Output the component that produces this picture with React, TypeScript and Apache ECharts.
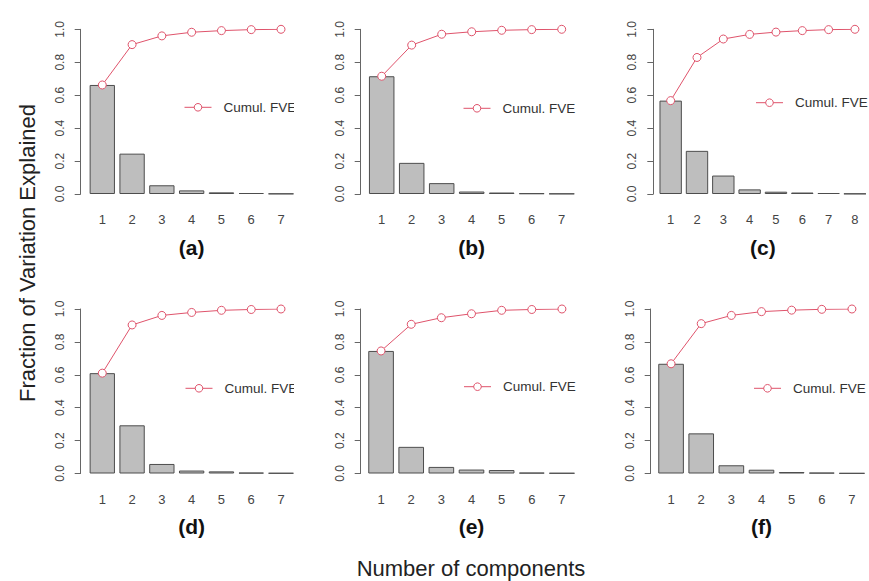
import React, { useEffect, useRef } from 'react';
import * as echarts from 'echarts';

// ---- data ----
const components7 = ['1', '2', '3', '4', '5', '6', '7'];
const components8 = ['1', '2', '3', '4', '5', '6', '7', '8'];

const fveA = [0.662, 0.245, 0.053, 0.022, 0.010, 0.006, 0.002];
const cumA = [0.662, 0.907, 0.960, 0.982, 0.992, 0.998, 1.000];
const fveB = [0.715, 0.189, 0.066, 0.015, 0.009, 0.004, 0.002];
const cumB = [0.715, 0.904, 0.970, 0.985, 0.994, 0.998, 1.000];
const fveC = [0.567, 0.262, 0.112, 0.028, 0.014, 0.009, 0.006, 0.002];
const cumC = [0.567, 0.829, 0.941, 0.969, 0.983, 0.992, 0.998, 1.000];
const fveD = [0.610, 0.293, 0.058, 0.018, 0.013, 0.005, 0.003];
const cumD = [0.610, 0.903, 0.961, 0.979, 0.992, 0.997, 1.000];
const fveE = [0.745, 0.162, 0.040, 0.024, 0.021, 0.005, 0.003];
const cumE = [0.745, 0.907, 0.947, 0.971, 0.992, 0.997, 1.000];
const fveF = [0.667, 0.244, 0.050, 0.023, 0.009, 0.005, 0.002];
const cumF = [0.667, 0.911, 0.961, 0.984, 0.993, 0.998, 1.000];

const panelLabels = ['(a)', '(b)', '(c)', '(d)', '(e)', '(f)'];
const legendText = 'Cumul. FVE';
const yAxisTitle = 'Fraction of Variation Explained';
const xAxisTitle = 'Number of components';

// ---- layout (pixels) ----
const FONT = '"Liberation Sans", Arial, Helvetica, sans-serif';
const RED = '#DF536B';

const panels = [
  { cats: components7, fve: fveA, cum: cumA, axisX: 80.7, left: 87.4, width: 208.5, top: 29.3, height: 164.7, legX: 184.5, legY: 107.3, labY: 247, clip: true },
  { cats: components7, fve: fveB, cum: cumB, axisX: 360.7, left: 366.7, width: 210, top: 29.3, height: 164.7, legX: 463.5, legY: 108.3, labY: 247, clip: false },
  { cats: components8, fve: fveC, cum: cumC, axisX: 653.3, left: 657.5, width: 210.6, top: 29.3, height: 164.7, legX: 756, legY: 102.7, labY: 247, clip: false },
  { cats: components7, fve: fveD, cum: cumD, axisX: 80.7, left: 87.4, width: 208.5, top: 309, height: 164.5, legX: 185.5, legY: 388.3, labY: 526, clip: true },
  { cats: components7, fve: fveE, cum: cumE, axisX: 360.7, left: 366, width: 211, top: 309, height: 164.5, legX: 464, legY: 386.7, labY: 526, clip: false },
  { cats: components7, fve: fveF, cum: cumF, axisX: 650.7, left: 656, width: 211, top: 309, height: 164.5, legX: 754, legY: 388.3, labY: 526, clip: false },
];

function buildOption() {
  const grid = panels.map((p) => ({ left: p.left, top: p.top, width: p.width, height: p.height, containLabel: false }));
  const xAxis = panels.map((p, i) => ({
    type: 'category',
    gridIndex: i,
    data: p.cats,
    axisLine: { show: false },
    axisTick: { show: false },
    axisLabel: { interval: 0, margin: 19, fontSize: 13, color: '#444', fontFamily: FONT },
  }));
  const yAxis = panels.map((p, i) => ({
    type: 'value',
    gridIndex: i,
    min: 0,
    max: 1,
    interval: 0.2,
    offset: p.left - p.axisX,
    axisLine: { show: true, lineStyle: { color: '#666', width: 1 } },
    axisTick: { show: true, length: 6, lineStyle: { color: '#666', width: 1 } },
    splitLine: { show: false },
    axisLabel: {
      rotate: 90,
      margin: 15,
      fontSize: 12,
      color: '#444',
      fontFamily: FONT,
      formatter: (v: number) => v.toFixed(1),
    },
  }));
  const series: any[] = [];
  panels.forEach((p, i) => {
    series.push({
      type: 'bar',
      name: 'FVE',
      xAxisIndex: i,
      yAxisIndex: i,
      data: p.fve,
      barCategoryGap: '15%',
      itemStyle: { color: '#BEBEBE', borderColor: '#4d4d4d', borderWidth: 1 },
      z: 2,
    });
    series.push({
      type: 'line',
      name: legendText,
      xAxisIndex: i,
      yAxisIndex: i,
      data: p.cum,
      symbol: 'circle',
      symbolSize: 8,
      lineStyle: { color: RED, width: 1 },
      itemStyle: { color: '#ffffff', borderColor: RED, borderWidth: 1 },
      z: 3,
    });
  });

  const graphic: any[] = [];
  panels.forEach((p, i) => {
    graphic.push({
      type: 'group',
      x: p.legX,
      y: p.legY,
      z: 50,
      children: [
        { type: 'line', shape: { x1: 0, y1: 0, x2: 27, y2: 0 }, style: { stroke: RED, lineWidth: 1 } },
        { type: 'circle', shape: { cx: 13.5, cy: 0, r: 3.8 }, style: { fill: '#fff', stroke: RED, lineWidth: 1 } },
        { type: 'text', x: 39, y: 0, style: { text: legendText, fontSize: 13.5, fill: '#333', fontFamily: FONT, align: 'left', verticalAlign: 'middle' } },
      ],
    });
    if (p.clip) {
      graphic.push({ type: 'rect', z: 60, shape: { x: 294, y: p.legY - 11, width: 28, height: 22 }, style: { fill: '#fff' } });
    }
    graphic.push({
      type: 'text',
      x: p.left + p.width / 2,
      y: p.labY,
      z: 50,
      style: { text: panelLabels[i], fontSize: 21, fontWeight: 'bold', fill: '#111', fontFamily: FONT, align: 'center', verticalAlign: 'middle' },
    });
  });
  graphic.push({
    type: 'text',
    x: 27,
    y: 253,
    rotation: Math.PI / 2,
    style: { text: yAxisTitle, fontSize: 22, fill: '#222', fontFamily: FONT, align: 'center', verticalAlign: 'middle' },
  });
  graphic.push({
    type: 'text',
    x: 471,
    y: 568,
    style: { text: xAxisTitle, fontSize: 22, fill: '#222', fontFamily: FONT, align: 'center', verticalAlign: 'middle' },
  });

  return {
    animation: false,
    backgroundColor: '#ffffff',
    grid,
    xAxis,
    yAxis,
    series,
    graphic,
  };
}

export default function App() {
  const ref = useRef<HTMLDivElement>(null);
  useEffect(() => {
    if (!ref.current) return;
    const chart = echarts.init(ref.current, undefined, { renderer: 'svg', width: 869, height: 581 });
    chart.setOption(buildOption() as any);
    return () => chart.dispose();
  }, []);
  return (
    <div
      ref={ref}
      style={{ position: 'absolute', left: 0, top: 0, width: 869, height: 581, background: '#fff' }}
    />
  );
}
